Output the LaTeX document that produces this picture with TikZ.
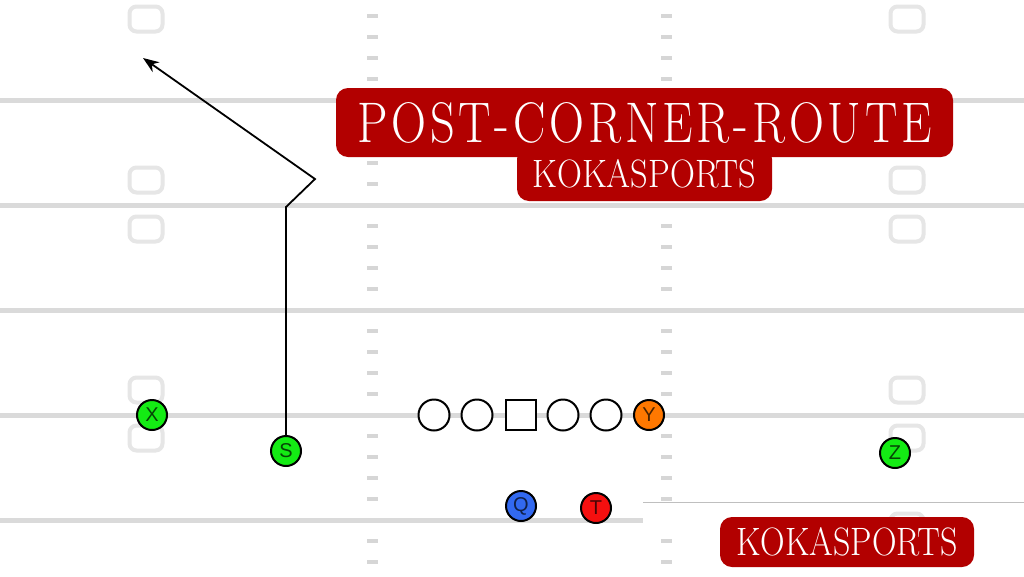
\documentclass[tikz,border=0pt]{standalone}
\usepackage{graphicx}
\usepackage{fontspec}
\setsansfont{Liberation Sans}
\usetikzlibrary{arrows.meta}
\definecolor{kred}{RGB}{178,0,0}
\definecolor{fieldgray}{RGB}{218,218,218}
\definecolor{hashgray}{RGB}{214,214,214}
\definecolor{numgray}{RGB}{230,230,230}
\definecolor{pgreen}{RGB}{20,235,20}
\definecolor{porange}{RGB}{255,120,0}
\definecolor{pblue}{RGB}{50,105,240}
\definecolor{pred}{RGB}{245,15,15}
\newcommand{\bigrm}{\fontsize{50}{50}\selectfont}
\newcommand{\sk}{\kern 4pt\relax}
\tikzset{
  yardline/.style={draw=fieldgray, line width=5pt},
  thinline/.style={draw=black!25, line width=1pt},
  hashmark/.style={fill=hashgray, minimum width=11pt, minimum height=4pt, inner sep=0pt, draw=none},
  numbox/.style={draw=numgray, line width=4pt, rounded corners=7pt, minimum width=33pt, minimum height=25pt, inner sep=0pt},
  player/.style={circle, draw=black, line width=2pt, minimum size=30pt, inner sep=0pt, font=\sffamily\fontsize{20}{20}\selectfont},
  lineman/.style={circle, draw=black, line width=2pt, fill=white, minimum size=31pt, inner sep=0pt},
  centerman/.style={rectangle, draw=black, line width=2pt, fill=white, minimum size=30pt, inner sep=0pt},
  banner/.style={fill=kred, rounded corners=12pt, inner sep=0pt, text=white},
  route/.style={draw=black, line width=1.8pt, line join=miter},
}
\begin{document}
\begin{tikzpicture}[x=1pt, y=-1pt]
\useasboundingbox[fill=white] (0,0) rectangle (1024,576);
% yard lines
\coordinate (l1a) at (0,100);   \coordinate (l1b) at (1024,100);
\coordinate (l2a) at (0,205);   \coordinate (l2b) at (1024,205);
\coordinate (l3a) at (0,310);   \coordinate (l3b) at (1024,310);
\coordinate (l4a) at (0,415);   \coordinate (l4b) at (1024,415);
\coordinate (l5a) at (0,520);   \coordinate (l5b) at (643,520);
\coordinate (t1a) at (643,502); \coordinate (t1b) at (1024,502);
\draw[yardline] (l1a) -- (l1b);
\draw[yardline] (l2a) -- (l2b);
\draw[yardline] (l3a) -- (l3b);
\draw[yardline] (l4a) -- (l4b);
\draw[yardline] (l5a) -- (l5b);
\draw[thinline] (t1a) -- (t1b);
% hash marks
\foreach \k in {0,1,2,3,5,6,7,8,10,11,12,13,15,16,17,18,20,21,22,23,25,26}{
  \node[hashmark] (hl\k) at (372,{16+21*\k}) {};
  \node[hashmark] (hr\k) at (666,{16+21*\k}) {};
}
% number boxes
\foreach \y [count=\i] in {19,180,229,390,438}{
  \node[numbox] (nl\i) at (146,\y) {};
}
\foreach \y [count=\i] in {19,180,229,390,438,526}{
  \node[numbox] (nr\i) at (907,\y) {};
}
% route
\node[player, fill=pgreen, text=pgreen!30!black] (S) at (286,451) {S};
\coordinate (r1) at (286,207);
\coordinate (r2) at (315,179);
\coordinate (r3) at (143,58);
\draw[route, -{Stealth[length=16pt,width=12pt]}] (S.north) -- (r1) -- (r2) -- (r3);
% players
\node[player, fill=pgreen, text=pgreen!30!black] (X) at (152,415) {X};
\node[player, fill=pgreen, text=pgreen!30!black] (Z) at (895,453) {Z};
\node[player, fill=porange, text=porange!30!black] (Y) at (649,415) {Y};
\node[player, fill=pblue, text=pblue!30!black] (Q) at (521,506) {Q};
\node[player, fill=pred, text=pred!30!black] (T) at (596,508) {T};
\node[lineman] (LT) at (434,415) {};
\node[lineman] (LG) at (477,415) {};
\node[centerman] (C) at (521,415) {};
\node[lineman] (RG) at (563,415) {};
\node[lineman] (RT) at (606,415) {};
% banners
\node[banner, minimum width=255pt, minimum height=54pt] (sub) at (644.5,174) {\resizebox{224pt}{28pt}{\bigrm KOKASPORTS}};
\node[banner, minimum width=617pt, minimum height=69pt] (title) at (644.5,122.5) {\resizebox{575pt}{40pt}{\bigrm P\sk O\sk S\sk T\sk -\sk C\sk O\sk R\sk N\sk E\sk R\sk -\sk R\sk O\sk U\sk T\sk E}};
\node[banner, minimum width=254pt, minimum height=50pt] (brand) at (847,542) {\resizebox{221pt}{28pt}{\bigrm KOKASPORTS}};
\end{tikzpicture}
\end{document}
